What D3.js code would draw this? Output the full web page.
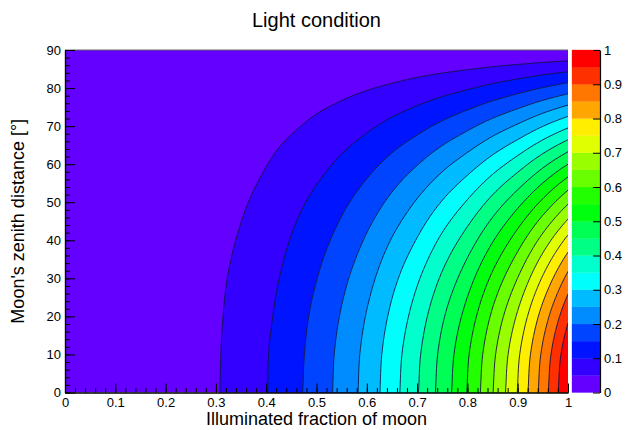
<!DOCTYPE html>
<html>
<head>
<meta charset="utf-8">
<script src="https://cdn.jsdelivr.net/npm/d3@7"></script>
<style>
  body { margin: 0; background: #fff; }
  svg text { font-family: "Liberation Sans", Arial, Helvetica, sans-serif; fill: #000; }
</style>
</head>
<body>
<svg class="chart" width="625" height="430"></svg>
<script>
// grid columns: illuminated fraction of moon
var fractions = [0.25, 0.30, 0.35, 0.40, 0.45, 0.50, 0.55, 0.60, 0.65, 0.70, 0.75, 0.80, 0.85, 0.90, 0.95, 1.00];
// grid rows: moon's zenith distance [deg]
var zeniths = [0, 10, 20, 30, 40, 50, 60, 70, 80, 90];

// light condition, one row per zenith distance
var row00 = [0, 0.045, 0.070, 0.098, 0.133, 0.172, 0.217, 0.269, 0.330, 0.396, 0.471, 0.552, 0.648, 0.752, 0.873, 1.000];
var row10 = [0, 0.044, 0.069, 0.097, 0.131, 0.169, 0.214, 0.265, 0.325, 0.390, 0.464, 0.544, 0.638, 0.741, 0.860, 0.985];
var row20 = [0, 0.042, 0.066, 0.092, 0.125, 0.162, 0.204, 0.253, 0.310, 0.372, 0.443, 0.519, 0.609, 0.707, 0.821, 0.940];
var row30 = [0, 0.039, 0.061, 0.085, 0.115, 0.149, 0.188, 0.233, 0.286, 0.343, 0.408, 0.478, 0.561, 0.651, 0.756, 0.866];
var row40 = [0, 0.034, 0.054, 0.075, 0.102, 0.132, 0.166, 0.206, 0.253, 0.303, 0.361, 0.423, 0.496, 0.576, 0.669, 0.766];
var row50 = [0, 0.029, 0.045, 0.063, 0.086, 0.111, 0.140, 0.173, 0.212, 0.255, 0.303, 0.355, 0.417, 0.484, 0.561, 0.643];
var row60 = [0, 0.023, 0.035, 0.049, 0.067, 0.086, 0.109, 0.135, 0.165, 0.198, 0.236, 0.276, 0.324, 0.376, 0.437, 0.500];
var row70 = [0, 0.015, 0.024, 0.034, 0.045, 0.059, 0.074, 0.092, 0.113, 0.135, 0.161, 0.189, 0.222, 0.257, 0.299, 0.342];
var row80 = [0, 0.008, 0.012, 0.017, 0.023, 0.030, 0.038, 0.047, 0.057, 0.069, 0.082, 0.096, 0.113, 0.131, 0.152, 0.174];
var row90 = [0, 0, 0, 0, 0, 0, 0, 0, 0, 0, 0, 0, 0, 0, 0, 0];

// contour levels (also the palette band edges)
var levels = [0.05, 0.10, 0.15, 0.20, 0.25, 0.30, 0.35, 0.40, 0.45, 0.50,
              0.55, 0.60, 0.65, 0.70, 0.75, 0.80, 0.85, 0.90, 0.95];

var xTicks = [0, 0.1, 0.2, 0.3, 0.4, 0.5, 0.6, 0.7, 0.8, 0.9, 1];
var xTickLabels = ["0", "0.1", "0.2", "0.3", "0.4", "0.5", "0.6", "0.7", "0.8", "0.9", "1"];
var yTicks = [0, 10, 20, 30, 40, 50, 60, 70, 80, 90];
var yTickLabels = ["0", "10", "20", "30", "40", "50", "60", "70", "80", "90"];
var zTicks = [0, 0.1, 0.2, 0.3, 0.4, 0.5, 0.6, 0.7, 0.8, 0.9, 1];
var zTickLabels = ["0", "0.1", "0.2", "0.3", "0.4", "0.5", "0.6", "0.7", "0.8", "0.9", "1"];

var grid = [row00, row10, row20, row30, row40, row50, row60, row70, row80, row90];

/* ---------------- layout ---------------- */
var svg = d3.select("svg.chart");
var plot = {left: 65, right: 568, top: 50, bottom: 392.5};
var bar = {left: 572, right: 600};

var x = d3.scaleLinear().domain([0, 1]).range([plot.left, plot.right]);
var y = d3.scaleLinear().domain([0, 90]).range([plot.bottom, plot.top]);
var zc = d3.scaleLinear().domain([0, 1]).range([plot.bottom, plot.top]);

// ROOT "pretty palette" (violet -> red, 50 colours), 20 contour bands
var nBands = levels.length + 1;
var bandColor = function(b) {
  var idx = Math.floor((b + 0.99) * 50 / nBands);
  return d3.hsl(280 - (idx + 1) * 280 / 50, 1, 0.5) + "";
};

svg.append("defs").append("clipPath").attr("id", "plotclip")
  .append("rect")
  .attr("x", plot.left).attr("y", plot.top)
  .attr("width", plot.right - plot.left).attr("height", plot.bottom - plot.top);

/* ---------------- contours ---------------- */
// resample the read grid finer (Catmull-Rom) so the contour curves come out smooth
var k = 8;
var nx = fractions.length, ny = zeniths.length;
var NX = (nx - 1) * k + 1, NY = (ny - 1) * k + 1;

var cr = function(p0, p1, p2, p3, t) {
  var t2 = t * t, t3 = t2 * t;
  return 0.5 * (2 * p1 + (p2 - p0) * t + (2 * p0 - 5 * p1 + 4 * p2 - p3) * t2 + (3 * p1 - p0 - 3 * p2 + p3) * t3);
};
var resample = function(arr, n) {
  var m = arr.length, out = [];
  for (var s = 0; s < n; s++) {
    var u = s / k, a = Math.min(Math.floor(u), m - 2), t = u - a;
    var p0 = arr[Math.max(a - 1, 0)], p1 = arr[a], p2 = arr[a + 1], p3 = arr[Math.min(a + 2, m - 1)];
    if (a === 0) p0 = 2 * p1 - p2;
    if (a + 2 > m - 1) p3 = 2 * p2 - p1;
    out.push(Math.max(0, cr(p0, p1, p2, p3, t)));
  }
  return out;
};

// along f first, then along z
var rowsFine = grid.map(function(r) { return resample(r, NX); });
var values = new Array(NX * NY);
for (var i = 0; i < NX; i++) {
  var col = resample(rowsFine.map(function(r) { return r[i]; }), NY);
  for (var j = 0; j < NY; j++) values[j * NX + i] = col[j];
}

var gx = d3.scaleLinear().domain([0.5, NX - 0.5]).range([fractions[0], fractions[nx - 1]]);
var gy = d3.scaleLinear().domain([0.5, NY - 0.5]).range([zeniths[0], zeniths[ny - 1]]);
var proj = d3.geoTransform({
  point: function(px, py) { this.stream.point(x(gx(px)), y(gy(py))); }
});
var path = d3.geoPath(proj);

var contours = d3.contours().size([NX, NY]).thresholds(levels)(values);

var g = svg.append("g").attr("clip-path", "url(#plotclip)");
g.append("rect")
  .attr("x", plot.left).attr("y", plot.top)
  .attr("width", plot.right - plot.left).attr("height", plot.bottom - plot.top)
  .attr("fill", bandColor(0));

g.selectAll("path.band")
  .data(contours)
  .join("path")
  .attr("class", "band")
  .attr("d", path)
  .attr("fill", function(d, i) { return bandColor(i + 1); })
  .attr("stroke", function(d, i) { return bandColor(i + 1); })
  .attr("stroke-width", 0.5);

g.selectAll("path.line")
  .data(contours)
  .join("path")
  .attr("class", "line")
  .attr("d", path)
  .attr("fill", "none")
  .attr("stroke", "#15154a")
  .attr("stroke-width", 0.9);

/* ---------------- frame and axes ---------------- */
svg.append("line")
  .attr("x1", plot.left).attr("x2", plot.right)
  .attr("y1", plot.top).attr("y2", plot.top)
  .attr("stroke", "#666").attr("stroke-width", 1);

var minorX = d3.range(0, 51).map(function(d) { return d / 50; });
var minorY = d3.range(0, 46).map(function(d) { return d * 2; });

var styleAxis = function(sel) {
  sel.selectAll("path.domain").attr("stroke", "#000").attr("stroke-width", 1.2);
  sel.selectAll(".tick line").attr("stroke", "#000");
  sel.selectAll("text").attr("fill", "#000").style("font-size", "13px");
};

svg.append("g")
  .attr("transform", "translate(0," + plot.bottom + ")")
  .call(d3.axisBottom(x).tickValues(minorX).tickSizeInner(-4.5).tickSizeOuter(0).tickFormat(""))
  .call(styleAxis);
svg.append("g")
  .attr("transform", "translate(0," + plot.bottom + ")")
  .call(d3.axisBottom(x).tickValues(xTicks).tickSizeInner(-9).tickSizeOuter(0).tickPadding(5)
    .tickFormat(function(d, i) { return xTickLabels[i]; }))
  .call(styleAxis);

svg.append("g")
  .attr("transform", "translate(" + plot.left + ",0)")
  .call(d3.axisLeft(y).tickValues(minorY).tickSizeInner(-5).tickSizeOuter(0).tickFormat(""))
  .call(styleAxis);
svg.append("g")
  .attr("transform", "translate(" + plot.left + ",0)")
  .call(d3.axisLeft(y).tickValues(yTicks).tickSizeInner(-10).tickSizeOuter(0).tickPadding(4)
    .tickFormat(function(d, i) { return yTickLabels[i]; }))
  .call(styleAxis);

/* ---------------- colour bar ---------------- */
var edges = [0].concat(levels, [1]);
svg.append("g").selectAll("rect")
  .data(d3.range(nBands))
  .join("rect")
  .attr("x", bar.left)
  .attr("width", bar.right - bar.left)
  .attr("y", function(b) { return zc(edges[b + 1]); })
  .attr("height", function(b) { return zc(edges[b]) - zc(edges[b + 1]); })
  .attr("fill", function(b) { return bandColor(b); })
  .attr("stroke", function(b) { return bandColor(b); })
  .attr("stroke-width", 0.3);

svg.append("g")
  .attr("transform", "translate(" + bar.right + ",0)")
  .call(d3.axisRight(zc).tickValues(zTicks).tickSizeInner(-7).tickSizeOuter(0).tickPadding(4)
    .tickFormat(function(d, i) { return zTickLabels[i]; }))
  .call(styleAxis);

/* ---------------- titles ---------------- */
svg.append("text")
  .attr("x", (plot.left + plot.right) / 2).attr("y", 27)
  .attr("text-anchor", "middle")
  .style("font-size", "20px")
  .text("Light condition");

svg.append("text")
  .attr("x", (plot.left + plot.right) / 2).attr("y", 425)
  .attr("text-anchor", "middle")
  .style("font-size", "18px")
  .text("Illuminated fraction of moon");

svg.append("text")
  .attr("transform", "translate(24," + (plot.top + plot.bottom) / 2 + ") rotate(-90)")
  .attr("text-anchor", "middle")
  .style("font-size", "18px")
  .text("Moon's zenith distance [°]");
</script>
</body>
</html>
